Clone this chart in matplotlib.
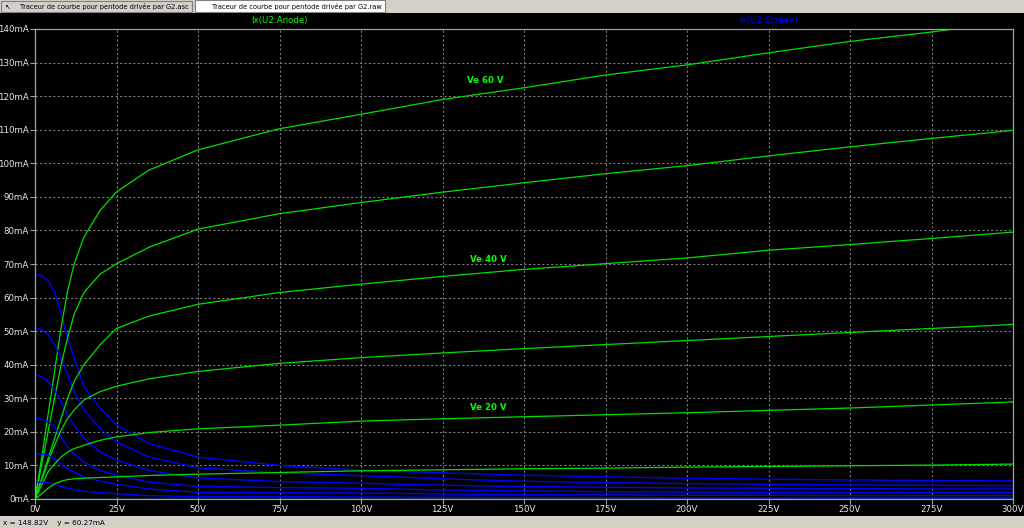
import matplotlib
matplotlib.use("Agg")
import matplotlib.pyplot as plt
from matplotlib.patches import Rectangle

# ==========================
# Data
# ==========================

grid_volts = [60, 50, 40, 30, 20, 10, 0]

# anode voltage samples (V)
va = [0, 2, 4, 6, 8, 10, 12, 15, 20, 25, 35, 50, 75, 100, 125, 150, 175, 200, 225, 250, 275, 300]

# anode current Ix(U2:Anode) in mA, one list per Ve
ia_60 = [0, 12, 25, 38, 51, 62, 70, 78, 86, 91.5, 98, 104, 110.3, 114.6, 119, 122.5, 126.3, 129.3, 132.9, 136.3, 139.1, 142.5]
ia_50 = [0, 10, 20, 30, 40, 48, 55, 61.5, 67, 70.1, 75, 80.4, 85, 88.3, 91.4, 94.2, 96.9, 99.3, 102.2, 104.9, 107.4, 109.8]
ia_40 = [0, 6, 12, 18, 24, 30, 35, 40, 46, 50.8, 54.5, 58, 61.5, 64, 66.3, 68.4, 70.1, 71.8, 74.1, 75.8, 77.6, 79.5]
ia_30 = [0, 5.5, 11, 16, 20.5, 24, 26.5, 29.5, 32, 33.6, 35.8, 38, 40.4, 42.1, 43.5, 44.8, 46, 47.2, 48.4, 49.6, 50.8, 52]
ia_20 = [0, 4, 8, 10.5, 12.5, 14, 15, 16, 17.5, 18.5, 19.8, 20.9, 22, 23.2, 23.9, 24.5, 25.1, 25.7, 26.4, 27.1, 28, 28.9]
ia_10 = [0, 1.5, 3.2, 4.5, 5.3, 5.8, 6.0, 6.2, 6.4, 6.6, 7.0, 7.4, 7.9, 8.4, 8.7, 9.0, 9.2, 9.5, 9.7, 9.9, 10.1, 10.4]
ia_0 = [0] * len(va)

# screen current Ix(U2:Screen) in mA
is_60 = [67, 66.5, 65, 61.7, 55, 48, 42, 33.5, 27, 22, 16.5, 12.5, 10, 8.6, 7.8, 7.1, 6.6, 6.2, 5.9, 5.7, 5.5, 5.4]
is_50 = [51, 50.5, 49, 46, 42, 37, 32, 26.5, 21, 17, 12.5, 9.3, 7.8, 7.0, 6.0, 5.3, 4.9, 4.6, 4.4, 4.2, 4.1, 4.0]
is_40 = [37, 36.5, 35, 32.5, 29, 25, 22, 18, 14, 11.6, 8.5, 6.3, 5.2, 4.7, 4.1, 3.7, 3.5, 3.3, 3.2, 3.1, 3.0, 3.0]
is_30 = [24, 23.8, 23, 21.5, 18.5, 15.5, 13.5, 11, 8.5, 7.1, 5.0, 3.8, 3.4, 3.2, 2.7, 2.4, 2.2, 2.1, 2.0, 2.0, 2.0, 2.0]
is_20 = [13.5, 13.4, 13, 12, 10.5, 9, 8, 6.6, 5.3, 4.4, 3.0, 2.0, 1.9, 1.8, 1.5, 1.3, 1.2, 1.1, 1.1, 1.0, 1.0, 1.0]
is_10 = [5, 5, 4.8, 4.3, 3.8, 3.2, 2.8, 2.3, 1.9, 1.6, 1.0, 0.7, 0.7, 0.6, 0.5, 0.4, 0.4, 0.3, 0.3, 0.3, 0.3, 0.3]
is_0 = [0] * len(va)

anode = [ia_60, ia_50, ia_40, ia_30, ia_20, ia_10, ia_0]
screen = [is_60, is_50, is_40, is_30, is_20, is_10, is_0]

x_ticks = list(range(0, 301, 25))
y_ticks = list(range(0, 141, 10))

curve_labels = ["Ve 60 V", "Ve 40 V", "Ve 20 V"]
label_pos = [(138, 124.8), (139, 71.2), (139, 27.2)]

# ==========================
# Figure
# ==========================
W, H = 1024, 528
fig = plt.figure(figsize=(W / 100, H / 100), dpi=100)
fig.patch.set_facecolor("#d4d0c8")

def px_rect(x0, y0, w, h, **kw):
    # rectangle given in screen pixels (origin top-left)
    r = Rectangle((x0 / W, 1 - (y0 + h) / H), w / W, h / H, transform=fig.transFigure, **kw)
    fig.add_artist(r)

# black plot window
px_rect(0, 13, W, 503, facecolor="black", edgecolor="none", zorder=0)
# tabs
px_rect(1, 1, 191, 11, facecolor="#d4d0c8", edgecolor="#808080", lw=0.8, zorder=1)
px_rect(195, 0, 190, 12, facecolor="white", edgecolor="#808080", lw=0.8, zorder=1)
fig.text(20 / W, 1 - 6.5 / H, "Traceur de courbe pour pentode drivée par G2.asc",
         fontsize=4.8, va="center", ha="left", color="black")
fig.text(212 / W, 1 - 6.5 / H, "Traceur de courbe pour pentode drivée par G2.raw",
         fontsize=4.8, va="center", ha="left", color="black")
fig.text(5 / W, 1 - 6.5 / H, "↖", fontsize=5, va="center", color="black")
# status bar text
fig.text(3 / W, 1 - 522.5 / H, "x = 148.82V    y = 60.27mA", fontsize=5.2,
         va="center", ha="left", color="black")

ax = fig.add_axes([35 / W, 1 - 499 / H, 978 / W, 470 / H])
ax.set_facecolor("black")
ax.set_xlim(0, 300)
ax.set_ylim(0, 140)

for s in ax.spines.values():
    s.set_color("#a0a0a0")
    s.set_linewidth(0.9)

ax.set_xticks(x_ticks)
ax.set_xticklabels([f"{v}V" for v in x_ticks])
ax.set_yticks(y_ticks)
ax.set_yticklabels([f"{v}mA" for v in y_ticks])
ax.tick_params(colors="#a0a0a0", labelcolor="#e8e8e8", labelsize=6.2, length=3.5, width=0.8, pad=1)
ax.grid(True, color="#7a7a7a", linestyle=(0, (2, 2)), linewidth=0.8)
ax.set_axisbelow(True)

for ia, isc in zip(anode, screen):
    ax.plot(va, isc, color="#0000ff", lw=1.0)
    ax.plot(va, ia, color="#00e000", lw=0.9)

for txt, (x, y) in zip(curve_labels, label_pos):
    ax.text(x, y, txt, color="#00ff00", fontsize=6.2, fontweight="bold", ha="center", va="center")

fig.text(279 / W, 1 - 21 / H, "Ix(U2:Anode)", color="#00ff00", fontsize=6.2, ha="center", va="center")
fig.text(768 / W, 1 - 21 / H, "Ix(U2:Screen)", color="#0000ff", fontsize=6.2, ha="center", va="center")

fig.savefig("out.png", dpi=100, facecolor=fig.get_facecolor())
